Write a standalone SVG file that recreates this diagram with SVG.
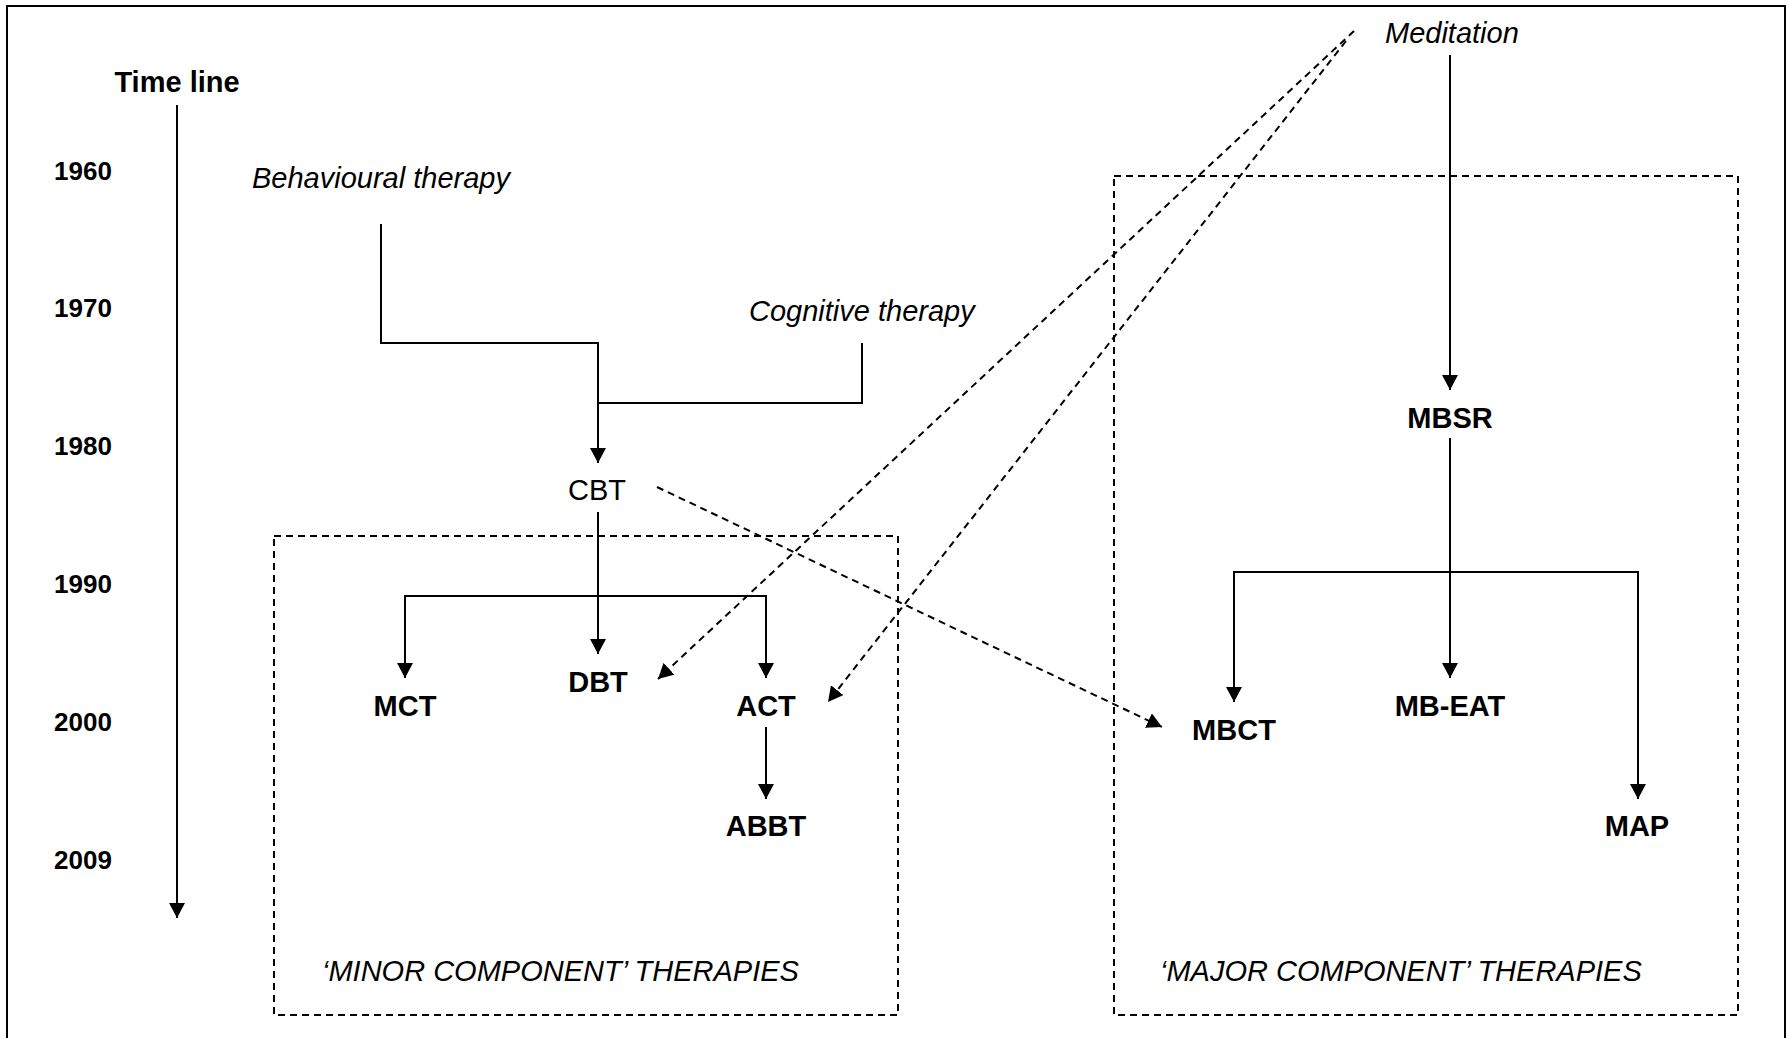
<svg xmlns="http://www.w3.org/2000/svg" width="1789" height="1038" viewBox="0 0 1789 1038">
<style>
  .t { font-family: "Liberation Sans", Arial, sans-serif; fill: #000; }
  .b { font-weight: bold; font-size: 29px; }
  .yr { font-weight: bold; font-size: 26px; }
  .it { font-style: italic; font-size: 29px; }
  .rg { font-size: 29px; }
  .ln { fill: none; stroke: #000; stroke-width: 2; }
  .dl { fill: none; stroke: #000; stroke-width: 2; stroke-dasharray: 7 5; }
</style>
<defs>
  <marker id="ah" markerUnits="userSpaceOnUse" markerWidth="16" markerHeight="16" refX="15" refY="8" orient="auto">
    <path d="M0,0 L15,8 L0,16 z" fill="#000"/>
  </marker>
</defs>
<rect x="0" y="0" width="1789" height="1038" fill="#fff"/>
<rect x="7" y="6" width="1778" height="1045" fill="none" stroke="#000" stroke-width="2"/>

<g id="groups">
  <rect id="minor-box" x="274" y="536" width="624" height="479" class="dl"/>
  <rect id="major-box" x="1114" y="176" width="624" height="839" class="dl"/>
</g>

<g id="timeline">
  <text class="t b" x="177" y="92" text-anchor="middle">Time line</text>
  <line x1="177" y1="105" x2="177" y2="918" class="ln" marker-end="url(#ah)"/>
  <text class="t yr" x="83" y="180" text-anchor="middle">1960</text>
  <text class="t yr" x="83" y="317" text-anchor="middle">1970</text>
  <text class="t yr" x="83" y="455" text-anchor="middle">1980</text>
  <text class="t yr" x="83" y="593" text-anchor="middle">1990</text>
  <text class="t yr" x="83" y="731" text-anchor="middle">2000</text>
  <text class="t yr" x="83" y="869" text-anchor="middle">2009</text>
</g>

<g id="connectors">
  <polyline points="381,224 381,343 598,343 598,463" class="ln" marker-end="url(#ah)"/>
  <polyline points="862,343 862,403 598,403" class="ln"/>
  <line x1="598" y1="512" x2="598" y2="654" class="ln" marker-end="url(#ah)"/>
  <polyline points="598,596 405,596 405,678" class="ln" marker-end="url(#ah)"/>
  <polyline points="598,596 766,596 766,678" class="ln" marker-end="url(#ah)"/>
  <line x1="766" y1="727" x2="766" y2="799" class="ln" marker-end="url(#ah)"/>
  <line x1="1450" y1="55" x2="1450" y2="390" class="ln" marker-end="url(#ah)"/>
  <line x1="1450" y1="438" x2="1450" y2="678" class="ln" marker-end="url(#ah)"/>
  <polyline points="1450,572 1234,572 1234,702" class="ln" marker-end="url(#ah)"/>
  <polyline points="1450,572 1638,572 1638,799" class="ln" marker-end="url(#ah)"/>
  <line x1="1354" y1="31" x2="658" y2="679" class="dl" marker-end="url(#ah)"/>
  <line x1="1346" y1="41" x2="828" y2="702" class="dl" marker-end="url(#ah)"/>
  <line x1="657" y1="487" x2="1162" y2="727" class="dl" marker-end="url(#ah)"/>
</g>

<g id="behavioural"><text class="t it" x="252" y="188">Behavioural therapy</text></g>
<g id="cognitive"><text class="t it" x="749" y="321">Cognitive therapy</text></g>
<g id="meditation"><text class="t it" x="1385" y="43">Meditation</text></g>
<g id="cbt"><text class="t rg" x="597" y="500" text-anchor="middle">CBT</text></g>
<g id="mct"><text class="t b" x="405" y="716" text-anchor="middle">MCT</text></g>
<g id="dbt"><text class="t b" x="598" y="692" text-anchor="middle">DBT</text></g>
<g id="act"><text class="t b" x="766" y="716" text-anchor="middle">ACT</text></g>
<g id="abbt"><text class="t b" x="766" y="836" text-anchor="middle">ABBT</text></g>
<g id="mbsr"><text class="t b" x="1450" y="428" text-anchor="middle">MBSR</text></g>
<g id="mbct"><text class="t b" x="1234" y="740" text-anchor="middle">MBCT</text></g>
<g id="mbeat"><text class="t b" x="1450" y="716" text-anchor="middle">MB-EAT</text></g>
<g id="map"><text class="t b" x="1637" y="836" text-anchor="middle">MAP</text></g>
<g id="minor-label"><text class="t it" x="322" y="981">‘MINOR COMPONENT’ THERAPIES</text></g>
<g id="major-label"><text class="t it" x="1160" y="981">‘MAJOR COMPONENT’ THERAPIES</text></g>
</svg>
